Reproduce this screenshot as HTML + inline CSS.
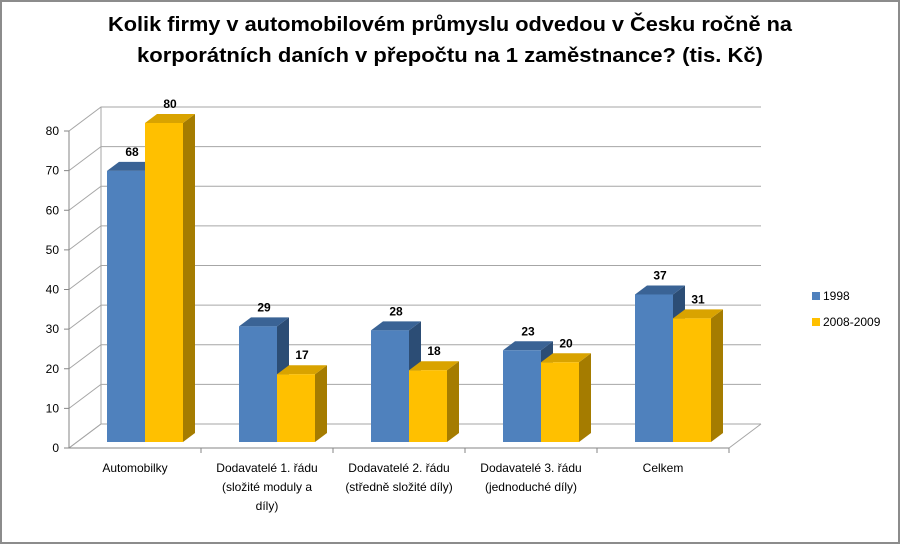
<!DOCTYPE html>
<html><head><meta charset="utf-8"><style>
html,body{margin:0;padding:0;background:#fff}
svg{display:block;font-family:"Liberation Sans",sans-serif}
</style></head><body>
<svg id="c" width="900" height="544" viewBox="0 0 900 544" xmlns="http://www.w3.org/2000/svg">
<rect x="1" y="1" width="898" height="542" fill="#fff" stroke="#8c8c8c" stroke-width="2"/>
<text x="450" y="31" text-anchor="middle" font-weight="bold" font-size="20" textLength="684" lengthAdjust="spacingAndGlyphs">Kolik firmy v automobilovém průmyslu odvedou v Česku ročně na</text>
<text x="450" y="62" text-anchor="middle" font-weight="bold" font-size="20" textLength="626" lengthAdjust="spacingAndGlyphs">korporátních daních v přepočtu na 1 zaměstnance? (tis. Kč)</text>
<g id="plot"></g>
<g>
<rect x="812" y="292" width="8" height="8" fill="#4f81bd"/>
<text x="823" y="300" font-size="12">1998</text>
<rect x="812" y="318" width="8" height="8" fill="#ffc000"/>
<text x="823" y="326" font-size="12">2008-2009</text>
</g>
</svg>
<script>
const categories = [["Automobilky"],["Dodavatelé 1. řádu","(složité moduly a","díly)"],["Dodavatelé 2. řádu","(středně složité díly)"],["Dodavatelé 3. řádu","(jednoduché díly)"],["Celkem"]];
const series1998 = [68,29,28,23,37];
const series2008 = [80,17,18,20,31];
const yTicks = [0,10,20,30,40,50,60,70,80];

const NS="http://www.w3.org/2000/svg";
const g=document.getElementById('plot');
function mk(tag,attrs,parent){const e=document.createElementNS(NS,tag);for(const k in attrs)e.setAttribute(k,attrs[k]);(parent||g).appendChild(e);return e;}
const X0=69,Y0=448,CW=132,DX=32,DY=-24,YMAX=80,FH=317;
const frontY=v=>Y0-v/YMAX*FH;
const barY0=442, BH=319;
const barY=v=>barY0-v/YMAX*BH;
const XR=X0+CW*categories.length;
// walls
const wall=mk('path',{d:`M${X0},${Y0} L${X0+DX},${Y0+DY} L${XR+DX},${Y0+DY}`,fill:'none',stroke:'#a0a0a0'});


yTicks.forEach(t=>{
  const y=frontY(t);
  const l=mk('polyline',{points:`${X0},${y} ${X0+DX},${y+DY} ${XR+DX},${y+DY}`,fill:'none',stroke:'#a6a6a6'});
  
  
  const tk=mk('line',{x1:X0-5,y1:y,x2:X0,y2:y,stroke:'#868686'});
  
  
  const tx=mk('text',{x:X0-10,y:y+4,'text-anchor':'end','font-size':'12'});
  tx.textContent=t;
  
  
});
const bw=mk('line',{x1:X0+DX,y1:frontY(0)+DY,x2:X0+DX,y2:frontY(YMAX)+DY,stroke:'#a6a6a6'});


const fl=mk('path',{d:`M${X0},${Y0} L${XR},${Y0} L${XR+DX},${Y0+DY}`,fill:'none',stroke:'#a6a6a6'});


const ya=mk('line',{x1:X0,y1:Y0,x2:X0,y2:frontY(YMAX),stroke:'#868686'});


const xa=mk('line',{x1:X0,y1:Y0,x2:XR,y2:Y0,stroke:'#868686'});


const BW=38,bdx=12,bdy=-9;
function bar(x,v,front,side,top,name){
  const yt=barY(v);
  const s=mk('polygon',{points:`${x+BW},${barY0} ${x+BW+bdx},${barY0+bdy} ${x+BW+bdx},${yt+bdy} ${x+BW},${yt}`,fill:side});
  
  
  const t=mk('polygon',{points:`${x},${yt} ${x+bdx},${yt+bdy} ${x+BW+bdx},${yt+bdy} ${x+BW},${yt}`,fill:top});
  
  
  const f=mk('rect',{x:x,y:yt,width:BW,height:barY0-yt,fill:front});
  
  
  const lb=mk('text',{x:x+BW/2+6,y:yt+bdy-6,'text-anchor':'middle','font-size':'12','font-weight':'bold'});
  lb.textContent=v;
  
  
}
categories.forEach((c,i)=>{
  const cx=X0+CW*(i+0.5)+10;
  const tk=mk('line',{x1:X0+CW*(i+1),y1:Y0,x2:X0+CW*(i+1),y2:Y0+5,stroke:'#868686'});
  
  
  bar(cx-BW,series1998[i],'#4f81bd','#2c4d75','#3a6395','bar-1998-'+i);
  bar(cx,series2008[i],'#ffc000','#a57c00','#d9a300','bar-2008-'+i);
  c.forEach((line,j)=>{
    const t=mk('text',{x:X0+CW*(i+0.5),y:472+j*19,'text-anchor':'middle','font-size':'12'});
    t.textContent=line;
    
    
  });
});
</script>
</body></html>
